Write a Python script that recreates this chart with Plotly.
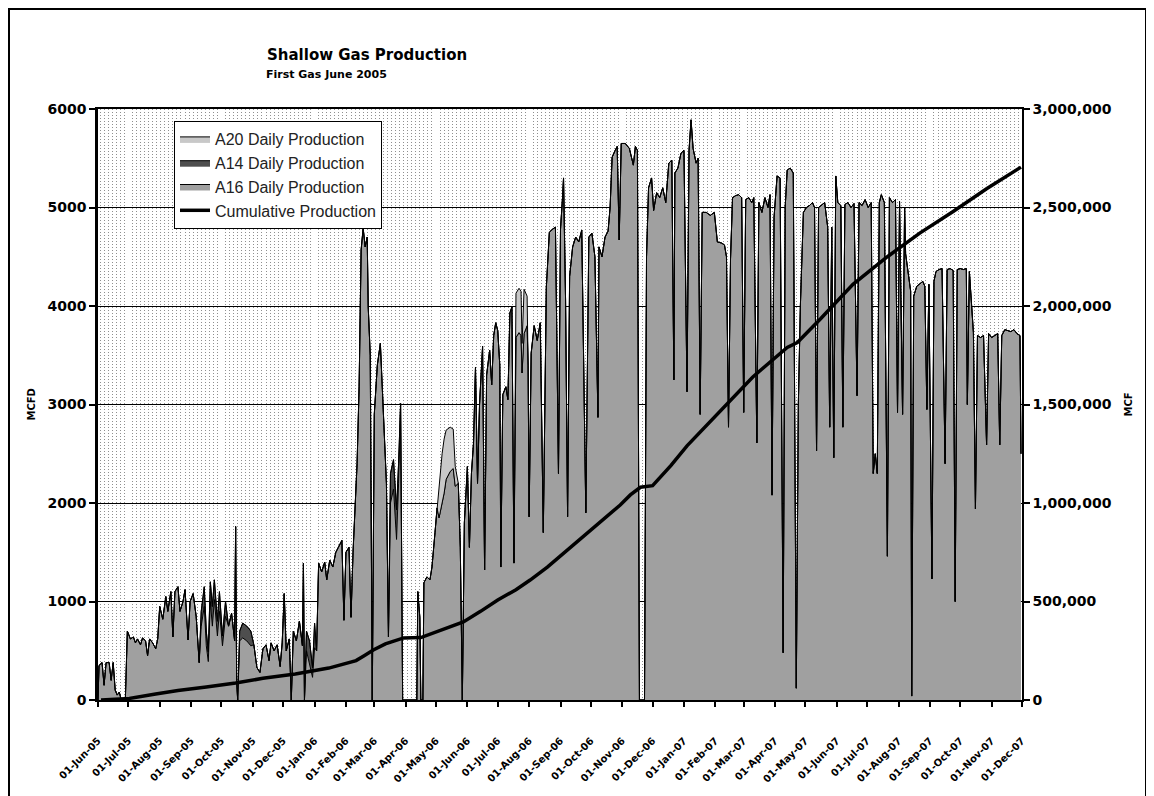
import pandas as pd
import plotly.graph_objects as go

# ---------------- data ----------------
first_gas = "2005-06-01"
axis_end = "2007-12-01"

# days since first gas and total daily production (MCFD)
day_offset = [
    0, 1, 4, 6, 8, 11, 13, 15, 17, 19, 21, 23, 27, 29, 32, 35, 37,
    39, 42, 44, 47, 49, 51, 54, 57, 59, 61, 64, 67, 69, 72, 74, 76, 79, 81, 84, 86, 89, 91, 94, 97, 100,
    102, 105, 107, 109, 111, 113,
    115, 118, 120, 123, 126, 129, 132, 135, 136, 137, 138, 140, 143, 147, 151, 154, 157, 160, 163, 166,
    169, 171, 174, 177, 180, 182, 184, 186, 189,
    191, 193, 196, 199, 202, 203, 204, 206, 209, 212, 214, 216, 218, 221, 224, 226, 229, 232, 235, 238,
    241, 243, 245, 248, 250, 252, 254, 256, 258, 260, 262, 264, 266,
    267, 269, 271, 273, 276, 279, 281, 283, 285, 287, 289, 292, 295, 297, 299, 301, 315, 316, 318, 319,
    321, 322, 325, 328, 330, 333, 335, 337, 340, 342,
    344, 348, 351, 353, 356, 358, 360, 362, 365, 367, 369, 371, 373, 375, 377, 380, 382, 384, 387, 389,
    391, 393, 395, 397, 398, 400, 403, 405, 407, 409, 411, 413, 416, 418,
    419, 421, 424, 425, 426, 428, 431, 434, 437, 440, 443, 446, 449, 452, 455, 457, 459, 460, 462, 464,
    466, 469, 472, 475, 478, 482, 485, 488, 491, 494,
    495, 498, 501, 504, 506, 508, 511, 513, 515, 517, 521, 525, 529, 531, 533, 535, 540, 542, 544, 547,
    549, 552, 555, 558, 561, 564, 567, 569,
    570, 573, 576, 579, 582, 584, 586, 588, 591, 593, 595, 597, 601, 605, 609, 612, 616, 619, 621, 623,
    625, 627, 630, 633, 636, 638, 640, 643, 646,
    648, 651, 653, 656, 659, 662, 664, 666, 668, 671, 674, 677, 679, 681, 684, 687, 690, 692, 694, 697,
    700, 703, 706, 708, 710, 712, 715, 718, 721,
    723, 725, 727, 729, 731, 734, 736, 738, 741, 744, 747, 750, 752, 755, 758, 761, 764, 766, 768, 770,
    772, 774, 777, 780, 782, 785, 788, 790, 792, 795, 797,
    798, 801, 803, 804, 806, 809, 812, 815, 817, 819, 821, 824, 826, 828, 831, 834, 837, 839, 842, 845,
    847, 849, 852, 855, 858, 859, 861, 863, 865, 867, 869, 872,
    875, 878, 880, 883, 886, 889, 891, 893, 896, 899, 902, 905, 908, 911, 912,
]
total_mcfd = [
    0, 350, 380, 150, 380, 380, 200, 380, 100, 50, 80, 0, 0, 700, 620, 640, 580,
    620, 560, 630, 600, 450, 620, 580, 520, 620, 950, 820, 1050, 900, 1100, 640, 1100, 1150, 900, 1000, 1120, 610, 1000, 1080, 850, 380,
    900, 1150, 700, 490, 1200, 950,
    1220, 800, 1100, 650, 1000, 750, 880, 600, 1760, 200, 0, 700, 780, 750, 700, 560, 330, 280, 520, 560,
    400, 580, 500, 560, 340, 580, 1080, 500, 620,
    0, 700, 600, 800, 550, 1390, 0, 700, 600, 330, 780, 500, 1390, 1300, 1400, 1220, 1420, 1350, 1500, 1560,
    1620, 810, 1500, 1550, 840, 1500, 1960, 2400, 3180, 4570, 4790, 4600, 4700,
    3990, 3500, 0, 2900, 3400, 3620, 3100, 2710, 2200, 640, 2300, 2440, 1930, 2400, 3010, 0, 0, 1100, 840, 0,
    0, 1190, 1250, 1220, 1350, 1700, 1950, 2150, 2500, 2650,
    2740, 2770, 2750, 2370, 2200, 1550, 0, 1800, 2370, 1550, 2300, 2600, 3380, 2200, 3000, 3590, 1320, 3300, 3550, 3200,
    3700, 3830, 3750, 3400, 1350, 3100, 3180, 3050, 3930, 3990, 1390, 4130, 4180, 4150,
    3620, 4170, 4100, 3400, 1860, 3520, 3800, 3650, 3830, 1700, 4190, 4750, 4780, 4800, 2300, 4780, 5100, 5300, 4060, 1860,
    4300, 4600, 4700, 4650, 4770, 1900, 4700, 4740, 4500, 2870,
    4600, 4500, 4700, 4760, 5000, 5510, 5580, 5620, 4670, 5650, 5650, 5600, 5430, 5620, 5580, 0, 0, 4500, 5200, 5300,
    4970, 5150, 5100, 5200, 5050, 5450, 5480, 3250,
    5350, 5400, 5550, 5580, 3130, 5580, 5890, 5600, 5450, 5500, 2900, 4950, 4950, 4920, 4950, 4650, 4640, 4620, 4500, 2770,
    4480, 5100, 5120, 5130, 5100, 2920, 5080, 5100, 5050,
    5100, 2610, 5050, 4950, 5100, 5000, 5130, 2080, 4900, 5320, 5300, 480, 5000, 5380, 5400, 5350, 120, 3000, 4000, 4950,
    5000, 5020, 5050, 5000, 2530, 5000, 5030, 5050, 4800,
    2770, 4800, 2460, 5320, 5050, 5020, 2770, 5030, 5050, 5000, 5040, 3090, 5050, 5020, 5080, 5000, 5050, 2300, 2500, 2300,
    5050, 5130, 5050, 1460, 5100, 5050, 5080, 2920, 5060, 2900, 5000,
    4530, 4300, 4150, 40, 4100, 4200, 4230, 4250, 4200, 2950, 4220, 1230, 4250, 4350, 4370, 4380, 2400, 4370, 4380, 4360,
    1000, 4370, 4380, 4370, 4380, 3000, 4350, 4000, 3730, 1940, 3700, 3680,
    3700, 2590, 3720, 3680, 3700, 3720, 2590, 3700, 3760, 3750, 3740, 3760, 3720, 3700, 2500,
]

# visible bands of the two smaller wells (day -> MCFD)
a20_band = {337: 300, 340: 500, 342: 550, 344: 500, 348: 450, 351: 400, 353: 200,
            413: 450, 416: 450, 418: 450, 419: 300, 421: 450, 424: 300}
a14_band = {102: 150, 105: 200, 107: 150, 109: 100, 111: 200, 113: 200, 115: 200, 118: 150,
            120: 200, 123: 100, 126: 150,
            140: 100, 143: 150, 147: 150, 151: 150,
            206: 200, 209: 250, 212: 100, 214: 250,
            289: 300, 292: 300, 295: 300, 297: 200}

# cumulative production (MCF)
cum_day = [3, 31, 57, 79, 107, 136, 163, 195, 228, 255, 263, 272, 284, 296, 302, 319, 339, 361, 378,
           395, 413, 427, 444, 460, 477, 494, 516, 526, 536, 548, 566, 582, 615, 647, 681, 691, 714,
           746, 780, 812, 845, 878, 912]
cum_mcf = [0, 8000, 30000, 48000, 66000, 86000, 110000, 132000, 162000, 200000, 225000, 254000,
           285000, 305000, 315000, 317000, 355000, 396000, 450000, 508000, 560000, 609000, 675000,
           746000, 820000, 898000, 990000, 1041000, 1080000, 1088000, 1190000, 1290000, 1470000,
           1640000, 1790000, 1815000, 1935000, 2110000, 2250000, 2370000, 2480000, 2595000, 2705000]

series_names = ["A20 Daily Production", "A14 Daily Production", "A16 Daily Production",
                "Cumulative Production"]

# ---------------- build figure ----------------
start = pd.Timestamp(first_gas)
dates = start + pd.to_timedelta(day_offset, unit="D")
cum_dates = start + pd.to_timedelta(cum_day, unit="D")
a20 = [a20_band.get(d, 0) for d in day_offset]
a14 = [a14_band.get(d, 0) for d in day_offset]
a16 = [t - p - q for t, p, q in zip(total_mcfd, a20, a14)]

# The page body has an 8px margin, so the figure is sized to end at the window edge.
PAGE_OFF = 8
W, H = 1154 - PAGE_OFF, 796 - PAGE_OFF
PLOT_L, PLOT_R, PLOT_T, PLOT_B = 98, 1022, 109, 700   # plot area in page pixels
L = PLOT_L - PAGE_OFF
T = PLOT_T - PAGE_OFF
R = W - (PLOT_R - PAGE_OFF)
B = H - (PLOT_B - PAGE_OFF)
PW, PH = PLOT_R - PLOT_L, PLOT_B - PLOT_T


def px(x):
    return (x - PLOT_L) / PW


def py(y):
    return (PLOT_B - y) / PH


fig = go.Figure()
fig.add_trace(go.Scatter(x=dates, y=a16, name=series_names[2], stackgroup="daily", mode="lines",
                         line=dict(color="black", width=1), fillcolor="#A0A0A0", legendrank=3))
fig.add_trace(go.Scatter(x=dates, y=a14, name=series_names[1], stackgroup="daily", mode="lines",
                         line=dict(color="black", width=1), fillcolor="#4E4E4E", legendrank=2))
fig.add_trace(go.Scatter(x=dates, y=a20, name=series_names[0], stackgroup="daily", mode="lines",
                         line=dict(color="black", width=1), fillcolor="#C8C8C8", legendrank=1))
fig.add_trace(go.Scatter(x=cum_dates, y=cum_mcf, name=series_names[3], yaxis="y2", mode="lines",
                         line=dict(color="black", width=3.5), legendrank=4))

tick_font = dict(family="DejaVu Sans", size=14, color="black", weight="bold")

fig.update_layout(
    width=W, height=H,
    margin=dict(l=L, r=R, t=T, b=B, pad=0),
    paper_bgcolor="white", plot_bgcolor="white",
    xaxis=dict(
        type="date", range=[first_gas, axis_end],
        tick0=first_gas, dtick="M1", tickformat="%d-%b-%y", tickangle=-45,
        tickfont=dict(family="DejaVu Sans", size=10, color="black", weight="bold"),
        ticks="outside", ticklen=5, tickwidth=2, tickcolor="black",
        ticklabelstandoff=24,
        showline=True, linecolor="black", linewidth=2, mirror=True,
        showgrid=False, zeroline=False,
        minor=dict(dtick=4 * 86400000, showgrid=True, gridcolor="#8f8f8f",
                   griddash="1px,2px", gridwidth=1, ticks=""),
    ),
    yaxis=dict(
        range=[0, 6000], dtick=1000, tickformat="d", tickfont=tick_font,
        ticks="outside", ticklen=6, tickwidth=2, tickcolor="black",
        showline=True, linecolor="black", linewidth=2.5,
        showgrid=True, gridcolor="black", gridwidth=1, zeroline=False,
    ),
    yaxis2=dict(
        overlaying="y", side="right", range=[0, 3000000], dtick=500000, tickformat=",",
        tickfont=tick_font, ticks="outside", ticklen=6, tickwidth=2, tickcolor="black",
        showline=True, linecolor="black", linewidth=1.5, showgrid=False, zeroline=False,
    ),
    legend=dict(
        x=px(174), y=py(121), xanchor="left", yanchor="top",
        bgcolor="white", bordercolor="black", borderwidth=1,
        font=dict(family="Liberation Sans", size=16, color="#222222"),
        tracegroupgap=0, traceorder="normal",
    ),
    showlegend=True,
    annotations=[
        dict(text="Shallow Gas Production", x=px(265), y=py(44), xref="paper", yref="paper",
             showarrow=False, font=dict(family="DejaVu Sans", size=15, color="black", weight="bold")),
        dict(text="First Gas June 2005", x=px(264), y=py(66), xref="paper", yref="paper",
             showarrow=False, font=dict(family="DejaVu Sans", size=11, color="black", weight="bold")),
        dict(text="MCFD", x=px(31), y=0.5, xref="paper", yref="paper", textangle=-90,
             xanchor="center", showarrow=False,
             font=dict(family="DejaVu Sans", size=10, color="black", weight="bold")),
        dict(text="MCF", x=px(1128), y=0.5, xref="paper", yref="paper", textangle=-90,
             xanchor="center", showarrow=False,
             font=dict(family="DejaVu Sans", size=10, color="black", weight="bold")),
    ],
    shapes=[
        dict(type="rect", xref="paper", yref="paper", x0=px(9), x1=px(1146), y0=py(830), y1=py(9),
             line=dict(color="black", width=2), fillcolor="rgba(0,0,0,0)", layer="above"),
    ],
)

fig.write_html("out.html")
